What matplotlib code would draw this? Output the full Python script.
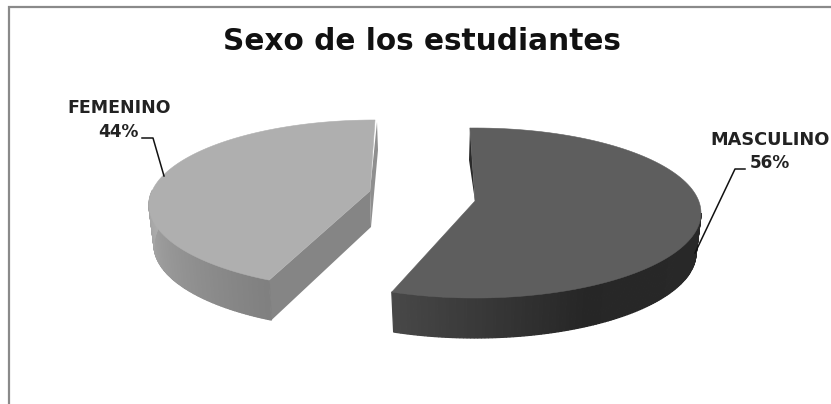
import numpy as np
import matplotlib
matplotlib.use("Agg")
import matplotlib.pyplot as plt
from matplotlib.patches import Polygon

TITLE = "Sexo de los estudiantes"
CATEGORIES = ["MASCULINO", "FEMENINO"]
SHARES = [56, 44]
TOP_COLORS = ["#5e5e5e", "#afafaf"]

RX, RY = 226, 85
DEPTH = 40
FONT = "DejaVu Sans"


def arc(cx, cy, start, end, n=120, shrink=0, drop=0):
    t = np.radians(np.linspace(start, end, n))
    return np.c_[cx + (RX - shrink) * np.sin(t), cy - RY * np.cos(t) + drop]


def wall(ax, cx, cy, start, end, stops, greys, n=120):
    top = arc(cx, cy, start, end, n + 1)
    bot = arc(cx, cy, start, end, n + 1, shrink=5, drop=DEPTH)
    for i in range(n):
        g = np.interp(i / (n - 1), stops, greys)
        ax.add_patch(Polygon([top[i], top[i + 1], bot[i + 1], bot[i]],
                             fc=(g, g, g), ec=(g, g, g), lw=0.9, zorder=2))


fig = plt.figure(figsize=(8.31, 4.04), dpi=100)
ax = fig.add_axes([0, 0, 1, 1])
ax.set_xlim(0, 831)
ax.set_ylim(404, 0)
ax.axis("off")

# only the top and left of the frame are in the crop
ax.plot([9, 9, 831], [404, 6.5, 6.5], color="#8a8a8a", lw=1.6, solid_joinstyle="miter", zorder=1)

# masculino
m_end = 360 * SHARES[0] / 100
mc = (475, 213)
m_apex = (475, 201)
wall(ax, *mc, 90, m_end, [0, 0.55, 1], [0.16, 0.15, 0.28])
ax.add_patch(Polygon([(470, 127), (469, 160), m_apex], fc="#2a2a2a", ec="none", zorder=2))
ax.add_patch(Polygon(np.vstack([[m_apex], arc(*mc, -1.3, m_end)]), fc=TOP_COLORS[0], ec=TOP_COLORS[0], lw=0.4, zorder=3))

# femenino, the outer arc sits a little further round than its share
f_start = 360 - 360 * SHARES[1] / 100 * 0.96
fc_ = (375, 205)
f_apex = (370, 191)
tip = arc(*fc_, f_start, f_start, 1)[0]
tip_low = arc(*fc_, f_start, f_start, 1, shrink=5, drop=DEPTH)[0]
ax.add_patch(Polygon([f_apex, (371, 227), tip_low, tip], fc="#858585", ec="none", zorder=2))
wall(ax, *fc_, f_start, 280, [0, 1], [0.50, 0.67])
ax.add_patch(Polygon([(377, 122), (378, 150), (371, 227), f_apex], fc="#8f8f8f", ec="none", zorder=2))
ax.add_patch(Polygon(np.vstack([[f_apex], arc(*fc_, f_start, 360)]), fc=TOP_COLORS[1], ec=TOP_COLORS[1], lw=0.4, zorder=3))

ax.text(422, 42, TITLE, ha="center", va="center", fontsize=21.3, fontweight="bold", family=FONT, color="#111111")

ax.text(770, 140, CATEGORIES[0], ha="center", va="center", fontsize=12.8, fontweight="bold", family=FONT, color="#222222")
ax.text(770, 163, f"{SHARES[0]}%", ha="center", va="center", fontsize=12.2, fontweight="bold", family=FONT, color="#222222")
ax.plot([745, 735, 695], [169, 169, 253], color="#111111", lw=1.1, zorder=4)

ax.text(119, 108, CATEGORIES[1], ha="center", va="center", fontsize=12.5, fontweight="bold", family=FONT, color="#222222")
ax.text(118, 132, f"{SHARES[1]}%", ha="center", va="center", fontsize=12.2, fontweight="bold", family=FONT, color="#222222")
ax.plot([142, 153, 164], [138, 138, 176], color="#111111", lw=1.1, zorder=4)

fig.savefig("out.png", dpi=100)
